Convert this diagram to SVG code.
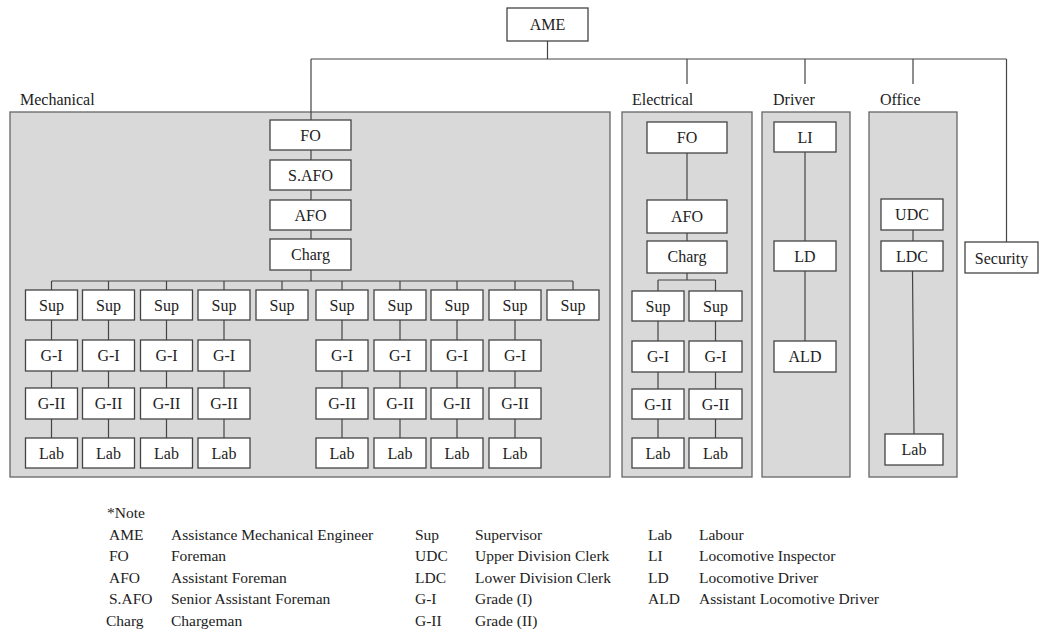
<svg xmlns="http://www.w3.org/2000/svg" width="1040" height="635" viewBox="0 0 1040 635" font-family="'Liberation Serif', 'Times New Roman', 'DejaVu Serif', serif">
<style>
text{font-family:'Liberation Serif','Times New Roman','DejaVu Serif',serif;fill:#222}
.n text{font-size:16px;text-anchor:middle}
.box{fill:#fff;stroke:#444;stroke-width:1.3}
.panel{fill:#d9d9d9;stroke:#666;stroke-width:1.3}
.lbl{font-size:16px}
.c{fill:none;stroke:#444;stroke-width:1.2}
.lg{font-size:15.5px}
</style>
<rect width="1040" height="635" fill="#fff"/>
<g id="panels">
<rect class="panel" x="10" y="112" width="600" height="365"/>
<rect class="panel" x="622" y="112" width="130" height="365"/>
<rect class="panel" x="762" y="112" width="88" height="365"/>
<rect class="panel" x="869" y="112" width="88" height="365"/>
<text class="lbl" x="20" y="105">Mechanical</text>
<text class="lbl" x="632" y="105">Electrical</text>
<text class="lbl" x="773" y="105">Driver</text>
<text class="lbl" x="880" y="105">Office</text>
</g>
<g id="connectors">
<path class="c" d="M547.5 41V59M311 59H1006.5M311 59V120M687 59V84M805 59V84M913 59V84M1006.5 59V242"/>
<path class="c" d="M311 150V239M311 270V281M51.5 281H573M51.5 281V290M108.5 281V290M166.5 281V290M224 281V290M282 281V290M342 281V290M400 281V290M457 281V290M515 281V290M573 281V290"/>
<path class="c" d="M51.5 320V438M108.5 320V438M166.5 320V438M224 320V438M342 320V438M400 320V438M457 320V438M515 320V438"/>
<path class="c" d="M687 153V241M687 273V280M658 280H715.5M658 280V291M715.5 280V291M658 321V438M715.5 321V438"/>
<path class="c" d="M805 152V341"/>
<path class="c" d="M913 230V241M912.5 271L914 434"/>
</g>
<g id="AME" class="n"><rect class="box" x="507" y="8" width="81" height="33"/><text x="547.5" y="30">AME</text></g>
<g id="mech-FO" class="n"><rect class="box" x="270" y="120" width="81" height="30"/><text x="310.5" y="141">FO</text></g>
<g id="mech-SAFO" class="n"><rect class="box" x="270" y="160" width="81" height="30"/><text x="310.5" y="181">S.AFO</text></g>
<g id="mech-AFO" class="n"><rect class="box" x="270" y="200" width="81" height="30"/><text x="310.5" y="221">AFO</text></g>
<g id="mech-Charg" class="n"><rect class="box" x="270" y="239" width="81" height="31"/><text x="310.5" y="260">Charg</text></g>
<g id="mech-sup1" class="n"><rect class="box" x="25.5" y="290" width="52" height="30"/><text x="51.5" y="311">Sup</text></g>
<g id="mech-sup2" class="n"><rect class="box" x="82.5" y="290" width="52" height="30"/><text x="108.5" y="311">Sup</text></g>
<g id="mech-sup3" class="n"><rect class="box" x="140.5" y="290" width="52" height="30"/><text x="166.5" y="311">Sup</text></g>
<g id="mech-sup4" class="n"><rect class="box" x="198" y="290" width="52" height="30"/><text x="224" y="311">Sup</text></g>
<g id="mech-sup5" class="n"><rect class="box" x="256" y="290" width="52" height="30"/><text x="282" y="311">Sup</text></g>
<g id="mech-sup6" class="n"><rect class="box" x="316" y="290" width="52" height="30"/><text x="342" y="311">Sup</text></g>
<g id="mech-sup7" class="n"><rect class="box" x="374" y="290" width="52" height="30"/><text x="400" y="311">Sup</text></g>
<g id="mech-sup8" class="n"><rect class="box" x="431" y="290" width="52" height="30"/><text x="457" y="311">Sup</text></g>
<g id="mech-sup9" class="n"><rect class="box" x="489" y="290" width="52" height="30"/><text x="515" y="311">Sup</text></g>
<g id="mech-sup10" class="n"><rect class="box" x="547" y="290" width="52" height="30"/><text x="573" y="311">Sup</text></g>
<g id="mech-gi1" class="n"><rect class="box" x="25.5" y="340" width="52" height="31"/><text x="51.5" y="361">G-I</text></g>
<g id="mech-gi2" class="n"><rect class="box" x="82.5" y="340" width="52" height="31"/><text x="108.5" y="361">G-I</text></g>
<g id="mech-gi3" class="n"><rect class="box" x="140.5" y="340" width="52" height="31"/><text x="166.5" y="361">G-I</text></g>
<g id="mech-gi4" class="n"><rect class="box" x="198" y="340" width="52" height="31"/><text x="224" y="361">G-I</text></g>
<g id="mech-gi6" class="n"><rect class="box" x="316" y="340" width="52" height="31"/><text x="342" y="361">G-I</text></g>
<g id="mech-gi7" class="n"><rect class="box" x="374" y="340" width="52" height="31"/><text x="400" y="361">G-I</text></g>
<g id="mech-gi8" class="n"><rect class="box" x="431" y="340" width="52" height="31"/><text x="457" y="361">G-I</text></g>
<g id="mech-gi9" class="n"><rect class="box" x="489" y="340" width="52" height="31"/><text x="515" y="361">G-I</text></g>
<g id="mech-gii1" class="n"><rect class="box" x="25.5" y="388" width="52" height="31"/><text x="51.5" y="409">G-II</text></g>
<g id="mech-gii2" class="n"><rect class="box" x="82.5" y="388" width="52" height="31"/><text x="108.5" y="409">G-II</text></g>
<g id="mech-gii3" class="n"><rect class="box" x="140.5" y="388" width="52" height="31"/><text x="166.5" y="409">G-II</text></g>
<g id="mech-gii4" class="n"><rect class="box" x="198" y="388" width="52" height="31"/><text x="224" y="409">G-II</text></g>
<g id="mech-gii6" class="n"><rect class="box" x="316" y="388" width="52" height="31"/><text x="342" y="409">G-II</text></g>
<g id="mech-gii7" class="n"><rect class="box" x="374" y="388" width="52" height="31"/><text x="400" y="409">G-II</text></g>
<g id="mech-gii8" class="n"><rect class="box" x="431" y="388" width="52" height="31"/><text x="457" y="409">G-II</text></g>
<g id="mech-gii9" class="n"><rect class="box" x="489" y="388" width="52" height="31"/><text x="515" y="409">G-II</text></g>
<g id="mech-lab1" class="n"><rect class="box" x="25.5" y="438" width="52" height="30"/><text x="51.5" y="459">Lab</text></g>
<g id="mech-lab2" class="n"><rect class="box" x="82.5" y="438" width="52" height="30"/><text x="108.5" y="459">Lab</text></g>
<g id="mech-lab3" class="n"><rect class="box" x="140.5" y="438" width="52" height="30"/><text x="166.5" y="459">Lab</text></g>
<g id="mech-lab4" class="n"><rect class="box" x="198" y="438" width="52" height="30"/><text x="224" y="459">Lab</text></g>
<g id="mech-lab6" class="n"><rect class="box" x="316" y="438" width="52" height="30"/><text x="342" y="459">Lab</text></g>
<g id="mech-lab7" class="n"><rect class="box" x="374" y="438" width="52" height="30"/><text x="400" y="459">Lab</text></g>
<g id="mech-lab8" class="n"><rect class="box" x="431" y="438" width="52" height="30"/><text x="457" y="459">Lab</text></g>
<g id="mech-lab9" class="n"><rect class="box" x="489" y="438" width="52" height="30"/><text x="515" y="459">Lab</text></g>
<g id="elec-FO" class="n"><rect class="box" x="647" y="122" width="80" height="31"/><text x="687" y="143">FO</text></g>
<g id="elec-AFO" class="n"><rect class="box" x="647" y="200" width="80" height="33"/><text x="687" y="222">AFO</text></g>
<g id="elec-Charg" class="n"><rect class="box" x="647" y="241" width="80" height="32"/><text x="687" y="262">Charg</text></g>
<g id="elec-sup1" class="n"><rect class="box" x="632" y="291" width="52" height="30"/><text x="658" y="312">Sup</text></g>
<g id="elec-sup2" class="n"><rect class="box" x="689" y="291" width="53" height="30"/><text x="715.5" y="312">Sup</text></g>
<g id="elec-gi1" class="n"><rect class="box" x="632" y="341" width="52" height="31"/><text x="658" y="362">G-I</text></g>
<g id="elec-gi2" class="n"><rect class="box" x="689" y="341" width="53" height="31"/><text x="715.5" y="362">G-I</text></g>
<g id="elec-gii1" class="n"><rect class="box" x="632" y="389" width="52" height="30"/><text x="658" y="410">G-II</text></g>
<g id="elec-gii2" class="n"><rect class="box" x="689" y="389" width="53" height="30"/><text x="715.5" y="410">G-II</text></g>
<g id="elec-lab1" class="n"><rect class="box" x="632" y="438" width="52" height="30"/><text x="658" y="459">Lab</text></g>
<g id="elec-lab2" class="n"><rect class="box" x="689" y="438" width="53" height="30"/><text x="715.5" y="459">Lab</text></g>
<g id="drv-LI" class="n"><rect class="box" x="774" y="122" width="62" height="30"/><text x="805" y="143">LI</text></g>
<g id="drv-LD" class="n"><rect class="box" x="774" y="241" width="62" height="30"/><text x="805" y="262">LD</text></g>
<g id="drv-ALD" class="n"><rect class="box" x="774" y="341" width="62" height="31"/><text x="805" y="362">ALD</text></g>
<g id="off-UDC" class="n"><rect class="box" x="881" y="199" width="62" height="31"/><text x="912" y="220">UDC</text></g>
<g id="off-LDC" class="n"><rect class="box" x="881" y="241" width="62" height="30"/><text x="912" y="262">LDC</text></g>
<g id="off-Lab" class="n"><rect class="box" x="885" y="434" width="58" height="31"/><text x="914" y="455">Lab</text></g>
<g id="Security" class="n"><rect class="box" x="965" y="242" width="73" height="31"/><text x="1001.5" y="264">Security</text></g>
<g id="legend" class="lg">
<text x="107" y="518">*Note</text>
<text x="109" y="540">AME</text><text x="171" y="540">Assistance Mechanical Engineer</text>
<text x="109" y="561">FO</text><text x="171" y="561">Foreman</text>
<text x="109" y="583">AFO</text><text x="171" y="583">Assistant Foreman</text>
<text x="109" y="604">S.AFO</text><text x="171" y="604">Senior Assistant Foreman</text>
<text x="106" y="626">Charg</text><text x="171" y="626">Chargeman</text>
<text x="415" y="540">Sup</text><text x="475" y="540">Supervisor</text>
<text x="415" y="561">UDC</text><text x="475" y="561">Upper Division Clerk</text>
<text x="415" y="583">LDC</text><text x="475" y="583">Lower Division Clerk</text>
<text x="415" y="604">G-I</text><text x="475" y="604">Grade (I)</text>
<text x="415" y="626">G-II</text><text x="475" y="626">Grade (II)</text>
<text x="648" y="540">Lab</text><text x="699" y="540">Labour</text>
<text x="648" y="561">LI</text><text x="699" y="561">Locomotive Inspector</text>
<text x="648" y="583">LD</text><text x="699" y="583">Locomotive Driver</text>
<text x="648" y="604">ALD</text><text x="699" y="604">Assistant Locomotive Driver</text>
</g>
</svg>
